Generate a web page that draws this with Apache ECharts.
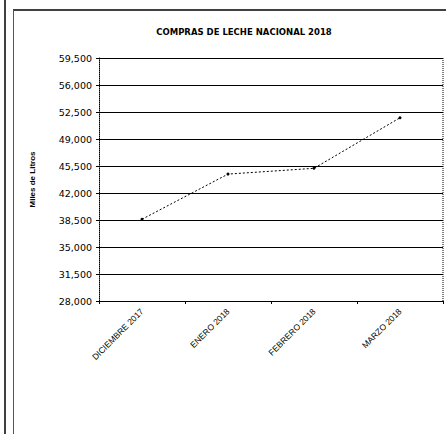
<!DOCTYPE html>
<html>
<head>
<meta charset="utf-8">
<script src="https://cdn.jsdelivr.net/npm/echarts@6/dist/echarts.min.js"></script>
<style>html,body{margin:0;padding:0;background:#fff;}#c{width:446px;height:434px;}</style>
</head>
<body>
<div id="c"></div>
<script>
var categories = ['DICIEMBRE 2017', 'ENERO 2018', 'FEBRERO 2018', 'MARZO 2018'];
var compras = [38600, 44450, 45200, 51750];
var chartTitle = 'COMPRAS DE LECHE NACIONAL 2018';
var yAxisName = 'Miles de Litros';

var chart = echarts.init(document.getElementById('c'), null, {renderer: 'svg'});
var font = "'Liberation Sans', Arial, sans-serif";
var wide = "'DejaVu Sans', sans-serif";
chart.setOption({
  animation: false,
  backgroundColor: '#ffffff',
  title: {
    text: chartTitle,
    left: 239, top: 22, textAlign: 'center',
    textStyle: {fontFamily: wide, fontSize: 8.5, fontWeight: 'bold', color: '#000'}
  },
  grid: {left: 99, right: 3, top: 58, bottom: 133},
  xAxis: {
    type: 'category',
    data: categories,
    boundaryGap: true,
    axisLine: {lineStyle: {color: '#000', width: 1}},
    axisTick: {show: true, length: 3, lineStyle: {color: '#000'}},
    axisLabel: {rotate: 45, fontFamily: font, fontSize: 8.5, color: '#000', margin: 9}
  },
  yAxis: {
    type: 'value',
    min: 28000, max: 59500, interval: 3500,
    name: yAxisName,
    nameLocation: 'middle',
    nameGap: 63,
    nameTextStyle: {fontFamily: font, fontSize: 8, fontWeight: 'bold', color: '#000'},
    axisLine: {show: true, lineStyle: {color: '#000', width: 1, type: 'dotted'}},
    axisTick: {show: true, length: 3, lineStyle: {color: '#000'}},
    axisLabel: {fontFamily: wide, fontSize: 9.5, color: '#000', margin: 7,
      formatter: function (v) { return v.toLocaleString('en-US'); }},
    splitLine: {show: true, lineStyle: {color: '#000', width: 1.2}}
  },
  series: [{
    type: 'line',
    data: compras,
    symbol: 'circle',
    symbolSize: 3,
    itemStyle: {color: '#000'},
    lineStyle: {color: '#000', width: 1, type: [2, 2]}
  }],
  graphic: [
    {type: 'line', shape: {x1: 5, y1: 0, x2: 5, y2: 434}, style: {stroke: '#000', lineWidth: 1.5}},
    {type: 'line', shape: {x1: 13, y1: 10, x2: 446, y2: 10}, style: {stroke: '#000', lineWidth: 1.3}},
    {type: 'line', shape: {x1: 13.5, y1: 10, x2: 13.5, y2: 434}, style: {stroke: '#555', lineWidth: 1}},
    {type: 'line', shape: {x1: 443, y1: 58, x2: 443, y2: 301}, style: {stroke: '#000', lineWidth: 1, lineDash: [1, 1]}}
  ]
});
</script>
</body>
</html>
